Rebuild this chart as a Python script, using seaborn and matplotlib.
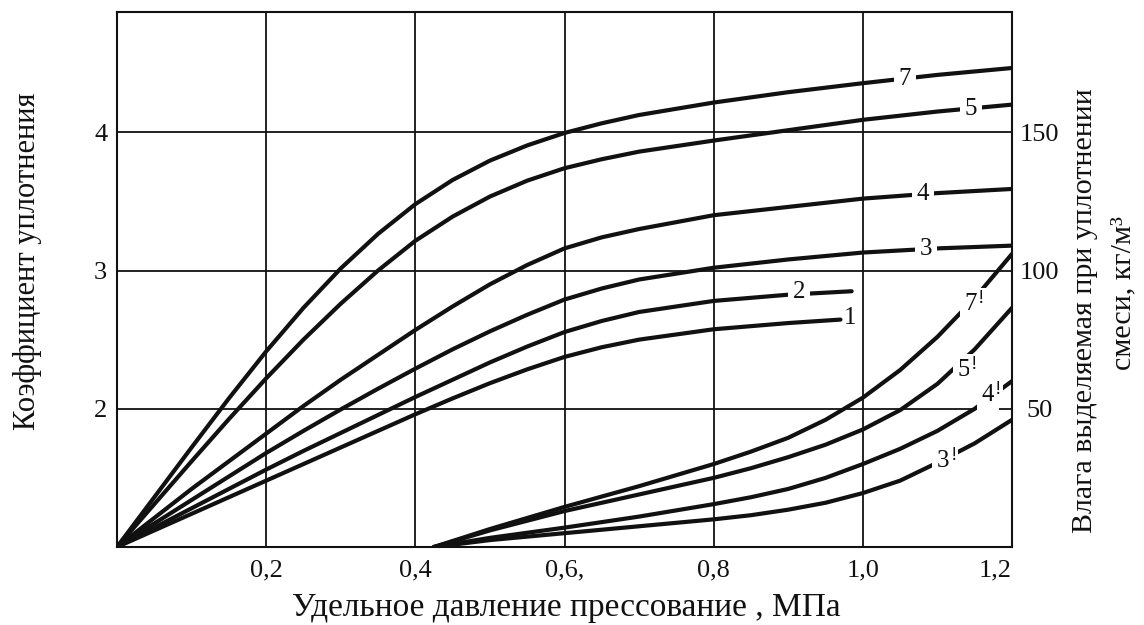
import matplotlib
matplotlib.use("Agg")
import matplotlib.pyplot as plt
import pandas as pd
import seaborn as sns

# --- compaction coefficient curves (left axis) vs. specific pressing pressure, MPa ---
p_k = [0, 0.05, 0.1, 0.15, 0.2, 0.25, 0.3, 0.35, 0.4, 0.45, 0.5, 0.55, 0.6, 0.65, 0.7,
       0.8, 0.9, 1.0, 1.1, 1.2]
k7 = [1.0, 1.36, 1.72, 2.075, 2.415, 2.73, 3.015, 3.265, 3.48, 3.655, 3.795, 3.905, 3.995,
      4.065, 4.125, 4.215, 4.29, 4.355, 4.415, 4.465]
k5 = [1.0, 1.31, 1.62, 1.925, 2.22, 2.5, 2.76, 3.0, 3.215, 3.39, 3.535, 3.65, 3.74,
      3.805, 3.86, 3.94, 4.015, 4.09, 4.15, 4.2]
k4 = [1.0, 1.21, 1.42, 1.62, 1.82, 2.02, 2.21, 2.39, 2.57, 2.74, 2.90, 3.04, 3.16,
      3.24, 3.30, 3.40, 3.46, 3.52, 3.56, 3.59]
k3 = [1.0, 1.17, 1.34, 1.51, 1.68, 1.84, 1.995, 2.145, 2.29, 2.43, 2.56, 2.68, 2.79,
      2.87, 2.935, 3.02, 3.08, 3.13, 3.16, 3.18]

p_2 = [0, 0.05, 0.1, 0.15, 0.2, 0.25, 0.3, 0.35, 0.4, 0.45, 0.5, 0.55, 0.6, 0.65, 0.7,
       0.8, 0.9, 0.985]
k2 = [1.0, 1.14, 1.28, 1.42, 1.56, 1.695, 1.825, 1.955, 2.085, 2.21, 2.335, 2.45, 2.555,
      2.635, 2.70, 2.78, 2.825, 2.85]

p_1 = [0, 0.05, 0.1, 0.15, 0.2, 0.25, 0.3, 0.35, 0.4, 0.45, 0.5, 0.55, 0.6, 0.65, 0.7,
       0.8, 0.9, 0.97]
k1 = [1.0, 1.12, 1.24, 1.36, 1.48, 1.6, 1.72, 1.84, 1.96, 2.075, 2.185, 2.285, 2.375,
      2.445, 2.50, 2.575, 2.62, 2.645]

# --- moisture released during compaction, kg/m3 (right axis) ---
p_w = [0.425, 0.5, 0.6, 0.7, 0.8, 0.85, 0.9, 0.95, 1.0, 1.05, 1.1, 1.15, 1.2]
w7 = [0, 6.5, 14.5, 22, 30, 34.5, 39.5, 46, 54, 64, 76, 90, 106]
w5 = [0, 6, 13, 19, 25, 28.5, 32.5, 37, 42.5, 49.5, 59, 71.5, 86.5]
w4 = [0, 3.3, 7, 11, 15.5, 18, 21, 25, 30, 35.5, 42, 50, 60]
w3 = [0, 2.5, 5, 7.5, 10, 11.5, 13.5, 16, 19.5, 24, 30.5, 37.5, 46]

x_ticks = [0.2, 0.4, 0.6, 0.8, 1.0, 1.2]
x_tick_labels = ["0,2", "0,4", "0,6,", "0,8", "1,0", "1,2"]
left_ticks = [2, 3, 4]
right_ticks = [50, 100, 150]

x_title = "Удельное давление прессование , МПа"
left_title = "Коэффициент уплотнения"
right_title_1 = "Влага выделяемая при уплотнении"
right_title_2 = "смеси, кг/м³"


def long_form(series):
    rows = []
    for name, xs, ys in series:
        rows += [{"curve": name, "p": x, "v": y} for x, y in zip(xs, ys)]
    return pd.DataFrame(rows)


df_k = long_form([("7", p_k, k7), ("5", p_k, k5), ("4", p_k, k4),
                  ("3", p_k, k3), ("2", p_2, k2), ("1", p_1, k1)])
df_w = long_form([("7'", p_w, w7), ("5'", p_w, w5), ("4'", p_w, w4), ("3'", p_w, w3)])

sns.set_style("white")
plt.rcParams["font.family"] = ["Liberation Serif", "DejaVu Serif"]

W, H = 1144, 625
fig = plt.figure(figsize=(W / 100, H / 100), dpi=100)
fig.patch.set_facecolor("white")
L, R, T, B = 117, 1012, 12, 547
ax = fig.add_axes([L / W, 1 - B / H, (R - L) / W, (B - T) / H])

ink = "#111111"
curve_lw = 3.0
tick_fs = 19
num_fs = 18

sns.lineplot(data=df_k, x="p", y="v", units="curve", estimator=None, sort=False,
             color=ink, lw=curve_lw, ax=ax, legend=False, zorder=3)

k_top = 4.87
ax.set_xlim(0, 1.2)
ax.set_ylim(1, k_top)
ax.set_xticks(x_ticks)
ax.set_xticklabels(x_tick_labels)
ax.set_yticks(left_ticks)
ax.set_yticklabels([str(t) for t in left_ticks])
ax.grid(True, color=ink, lw=1.3)
ax.set_axisbelow(True)
ax.set_xlabel("")
ax.set_ylabel("")
ax.tick_params(axis="both", length=0, labelsize=tick_fs, colors=ink)
ax.tick_params(axis="x", pad=9)
ax.tick_params(axis="y", pad=7)
ax.get_xticklabels()[-1].set_horizontalalignment("right")
for s in ax.spines.values():
    s.set_visible(True)
    s.set_color(ink)
    s.set_linewidth(1.5)

ax2 = ax.twinx()
sns.lineplot(data=df_w, x="p", y="v", units="curve", estimator=None, sort=False,
             color=ink, lw=curve_lw, ax=ax2, legend=False, zorder=3)
ax2.set_ylim(0, (k_top - 1) * 50)
ax2.set_yticks(right_ticks)
ax2.set_yticklabels([str(t) for t in right_ticks])
ax2.set_ylabel("")
ax2.tick_params(axis="y", length=0, labelsize=tick_fs, colors=ink, pad=20)
for lab in ax2.get_yticklabels():
    lab.set_horizontalalignment("center")
for s in ax2.spines.values():
    s.set_visible(False)

# curve numbers, drawn over the lines with a white patch that breaks the line
box = dict(facecolor="white", edgecolor="none", pad=3.5)
k_labels = [("7", 1.056, 4.384), ("5", 1.145, 4.17), ("4", 1.08, 3.55),
            ("3", 1.085, 3.155), ("2", 0.914, 2.843)]
for txt, x, y in k_labels:
    ax.text(x, y, txt, fontsize=num_fs, ha="center", va="center", color=ink,
            bbox=box, zorder=5)
ax.text(0.975, 2.66, "1", fontsize=num_fs, ha="left", va="center", color=ink, zorder=5)

w_labels = [("7", 1.145, 88), ("5", 1.135, 64), ("4", 1.168, 55), ("3", 1.108, 31)]
small_box = dict(facecolor="white", edgecolor="none", pad=1.0)
for txt, x, y in w_labels:
    ax2.text(x, y, txt, fontsize=num_fs, ha="center", va="center", color=ink,
             bbox=box, zorder=5)
    ax2.annotate("!", xy=(x, y), xytext=(7.5, 4), textcoords="offset points",
                 fontsize=14, ha="center", va="center", color=ink,
                 bbox=small_box, zorder=6)

fig.text(566 / W, 1 - 608 / H, x_title, fontsize=24, ha="center", va="center", color=ink)
fig.text(28 / W, 1 - 261 / H, left_title, fontsize=22, rotation=90,
         ha="center", va="center", color=ink)
fig.text(1085 / W, 1 - 311 / H, right_title_1, fontsize=21.6, rotation=90,
         ha="center", va="center", color=ink)
fig.text(1123 / W, 1 - 293 / H, right_title_2, fontsize=21.6, rotation=90,
         ha="center", va="center", color=ink)

fig.savefig("out.png", dpi=100, facecolor="white")
